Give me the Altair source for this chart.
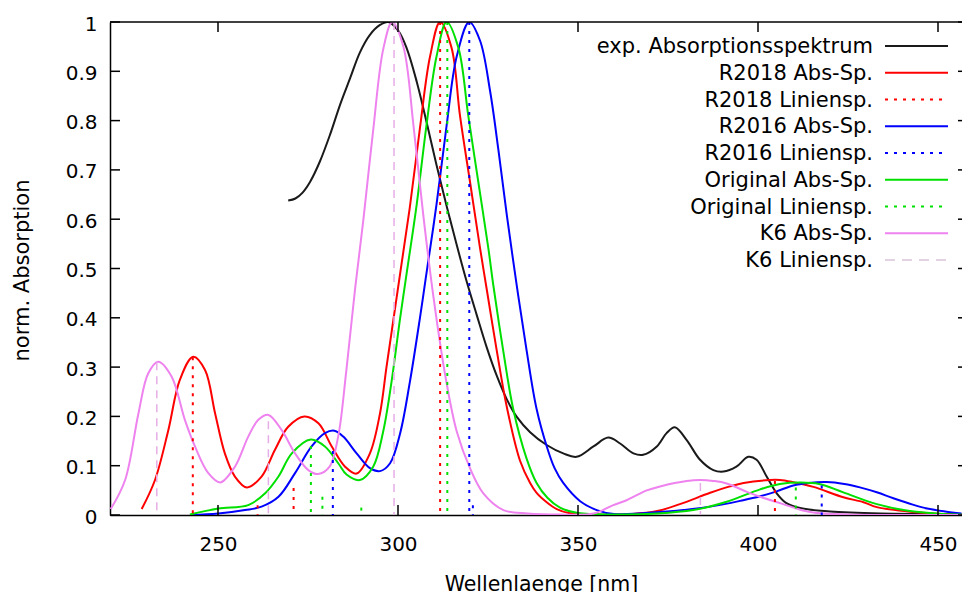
import altair as alt
import pandas as pd

# ---------------- data ----------------
exp_x = [269.5, 271.5, 273.5, 275.6, 278.3, 281.1, 283.9, 286.7, 289.4, 292.2,
         295.0, 297.3, 300.1, 302.4, 305.2, 308.0, 310.7, 313.5, 316.3, 319.1,
         321.9, 324.6, 327.4, 330.2, 333.0, 336.7, 341.3, 345.9, 349.6, 354.3,
         358.4, 361.7, 365.4, 368.1, 371.9, 374.6, 376.9, 380.2, 383.9, 387.6,
         390.4, 394.0, 397.3, 399.6, 402.4, 405.2, 407.9, 411.7, 420.0, 434.0,
         456.5]
exp_y = [0.638, 0.642, 0.654, 0.676, 0.717, 0.771, 0.832, 0.886, 0.938, 0.974,
         0.994, 1.000, 0.982, 0.947, 0.879, 0.795, 0.710, 0.627, 0.548, 0.473,
         0.405, 0.341, 0.283, 0.235, 0.199, 0.168, 0.142, 0.125, 0.118, 0.139,
         0.157, 0.145, 0.125, 0.122, 0.139, 0.166, 0.178, 0.152, 0.112, 0.091,
         0.088, 0.098, 0.118, 0.112, 0.078, 0.044, 0.024, 0.014, 0.007, 0.003,
         0.002]

r18_x = [228.8, 232.5, 236.2, 239.4, 243.1, 246.4, 249.2, 251.9, 254.7, 258.0,
         262.1, 265.8, 269.5, 274.0, 277.9, 281.6, 285.3, 288.5, 292.2, 295.0,
         296.8, 298.7, 300.6, 303.3, 306.1, 308.9, 311.7, 314.9, 317.2, 320.0,
         322.8, 324.6, 327.4, 330.2, 333.9, 336.7, 338.5, 341.3, 344.1, 347.5,
         355.0, 365.0, 372.0, 378.3, 386.7, 392.2, 396.0, 403.3, 406.1, 409.5,
         415.4, 423.7, 429.3, 433.0, 443.1, 451.0, 456.5]
r18_y = [0.012, 0.071, 0.172, 0.274, 0.321, 0.294, 0.206, 0.125, 0.078, 0.056,
         0.078, 0.132, 0.179, 0.200, 0.186, 0.139, 0.098, 0.084, 0.125, 0.206,
         0.300, 0.395, 0.490, 0.625, 0.785, 0.930, 1.000, 0.947, 0.811, 0.676,
         0.541, 0.460, 0.335, 0.220, 0.110, 0.065, 0.045, 0.026, 0.012, 0.004,
         0.001, 0.002, 0.008, 0.022, 0.045, 0.058, 0.065, 0.071, 0.071, 0.067,
         0.057, 0.036, 0.026, 0.016, 0.006, 0.002, 0.001]

r16_x = [242.2, 250.1, 257.5, 262.1, 266.8, 271.4, 276.0, 279.7, 282.3, 284.8,
         288.5, 292.2, 295.0, 297.8, 300.6, 303.3, 306.1, 307.7, 310.7, 313.5,
         316.3, 319.8, 322.8, 325.6, 327.9, 330.2, 332.9, 335.7, 338.5, 341.5,
         343.5, 345.9, 350.6, 355.2, 360.0, 372.8, 386.7, 395.9, 400.6, 405.2,
         409.8, 414.0, 419.1, 424.0, 428.3, 433.0, 437.6, 443.0, 447.0, 452.0,
         456.5]
r16_y = [0.000, 0.003, 0.010, 0.017, 0.037, 0.085, 0.139, 0.166, 0.171, 0.159,
         0.125, 0.095, 0.089, 0.105, 0.166, 0.270, 0.400, 0.480, 0.630, 0.790,
         0.930, 1.000, 0.962, 0.859, 0.740, 0.610, 0.470, 0.335, 0.215, 0.135,
         0.095, 0.065, 0.028, 0.010, 0.002, 0.006, 0.017, 0.030, 0.038, 0.048,
         0.060, 0.065, 0.067, 0.063, 0.056, 0.046, 0.034, 0.021, 0.013, 0.007,
         0.003]

org_x = [242.2, 250.1, 258.4, 263.1, 266.8, 270.5, 275.8, 279.7, 283.4, 285.7,
         289.4, 293.1, 295.9, 298.2, 300.6, 302.4, 305.2, 307.9, 310.7, 313.5,
         316.8, 319.5, 322.3, 325.1, 326.5, 329.3, 332.0, 335.7, 338.5, 341.5,
         345.0, 350.0, 360.0, 372.0, 382.0, 391.3, 400.6, 406.1, 412.0, 417.0,
         423.7, 433.0, 442.2, 451.5, 456.5]
org_y = [0.001, 0.013, 0.020, 0.044, 0.078, 0.125, 0.153, 0.139, 0.105, 0.082,
         0.071, 0.098, 0.170, 0.270, 0.400, 0.490, 0.630, 0.790, 0.930, 1.000,
         0.947, 0.811, 0.676, 0.541, 0.465, 0.330, 0.215, 0.115, 0.065, 0.035,
         0.015, 0.004, 0.001, 0.003, 0.010, 0.027, 0.052, 0.063, 0.066, 0.063,
         0.046, 0.022, 0.008, 0.002, 0.001]

k6_x = [220.2, 224.2, 227.9, 230.6, 233.4, 237.1, 240.8, 243.6, 247.3, 250.6,
        254.7, 258.4, 261.2, 264.0, 267.7, 271.4, 275.1, 277.8, 281.0, 283.4,
        285.6, 288.1, 290.4, 293.1, 295.9, 298.4, 301.5, 304.3, 307.0, 309.8,
        313.2, 316.3, 320.0, 323.7, 329.3, 336.0, 345.0, 354.3, 359.8, 363.5,
        369.1, 372.8, 380.2, 384.0, 387.6, 391.3, 396.9, 401.0, 406.1, 410.7,
        415.3, 425.0, 456.5]
k6_y = [0.012, 0.071, 0.206, 0.287, 0.311, 0.281, 0.193, 0.139, 0.085, 0.066,
        0.098, 0.159, 0.193, 0.203, 0.172, 0.125, 0.091, 0.083, 0.098, 0.160,
        0.290, 0.460, 0.600, 0.780, 0.945, 1.000, 0.950, 0.790, 0.610, 0.445,
        0.280, 0.170, 0.095, 0.044, 0.010, 0.003, 0.001, 0.003, 0.020, 0.030,
        0.050, 0.058, 0.069, 0.071, 0.069, 0.064, 0.047, 0.036, 0.024, 0.013,
        0.005, 0.001, 0.000]

# line spectra (stick positions and heights)
r18_stick_x = [243.0, 261.0, 271.0, 311.7, 404.7]
r18_stick_y = [0.32, 0.02, 0.055, 1.0, 0.069]
r16_stick_x = [281.9, 319.8, 320.8, 417.7]
r16_stick_y = [0.13, 1.0, 0.02, 0.06]
org_stick_x = [275.8, 279.0, 289.8, 313.7, 410.5]
org_stick_y = [0.14, 0.037, 0.015, 1.0, 0.056]
k6_stick_x = [233.0, 264.0, 298.9, 384.0]
k6_stick_y = [0.31, 0.19, 1.0, 0.065]

x_ticks = [250, 300, 350, 400, 450]
y_ticks = [0, 0.1, 0.2, 0.3, 0.4, 0.5, 0.6, 0.7, 0.8, 0.9, 1]

legend_labels = ["exp. Absorptionsspektrum", "R2018 Abs-Sp.", "R2018 Liniensp.",
                 "R2016 Abs-Sp.", "R2016 Liniensp.", "Original Abs-Sp.",
                 "Original Liniensp.", "K6 Abs-Sp.", "K6 Liniensp."]

# ---------------- styling ----------------
FONT = "DejaVu Sans"
W, H = 852, 493
C_EXP, C_RED, C_BLUE, C_GREEN, C_VIOLET = "#1a1a1a", "#ff0000", "#0000ff", "#00e000", "#ee82ee"
C_K6_LINE = "#e6aee6"
DOT = [3, 6]
K6_DASH = [8, 6]

xscale = alt.Scale(domain=[220, 220 + W / 3.6], nice=False, zero=False)
yscale = alt.Scale(domain=[0, 1], nice=False, zero=False)

xaxis = alt.Axis(values=x_ticks, ticks=False, tickSize=0, grid=False,
                 domainColor="black", domainWidth=1.5, labelFlush=False,
                 labelFont=FONT, labelFontSize=20, labelColor="black", labelPadding=19,
                 title="Wellenlaenge [nm]", titleFont=FONT, titleFontSize=20.5,
                 titleFontWeight="normal", titleColor="black",
                 titleX=W / 2 + 5, titleY=75, titleAlign="center", titleBaseline="alphabetic")
yaxis = alt.Axis(values=y_ticks, format="~g", ticks=False, tickSize=0, grid=False,
                 domainColor="black", domainWidth=1.5, labelFlush=False,
                 labelFont=FONT, labelFontSize=20, labelColor="black", labelPadding=13,
                 labelOffset=2,
                 title="norm. Absorption", titleFont=FONT, titleFontSize=21,
                 titleFontWeight="normal", titleColor="black", titleAngle=270,
                 titleX=-82, titleY=248, titleAlign="center", titleBaseline="alphabetic")


def X(field):
    return alt.X(field, type="quantitative", scale=xscale, axis=xaxis)


def Y(field):
    return alt.Y(field, type="quantitative", scale=yscale, axis=yaxis)


# ---------------- curves ----------------
rows = []
for name, xs, ys, col in [("exp", exp_x, exp_y, C_EXP),
                          ("R2018", r18_x, r18_y, C_RED),
                          ("R2016", r16_x, r16_y, C_BLUE),
                          ("Original", org_x, org_y, C_GREEN),
                          ("K6", k6_x, k6_y, C_VIOLET)]:
    for xv, yv in zip(xs, ys):
        rows.append({"series": name, "x": xv, "y": yv, "color": col})
curve_df = pd.DataFrame(rows)

curves = alt.Chart(curve_df).mark_line(strokeWidth=2, interpolate="catmull-rom", clip=True).encode(
    x=X("x"), y=Y("y"),
    color=alt.Color("color:N", scale=None),
    detail="series:N",
)

# ---------------- line spectra ----------------
stick_layers = []
for xs, ys, col, dash, sw in [(r18_stick_x, r18_stick_y, C_RED, DOT, 2),
                              (r16_stick_x, r16_stick_y, C_BLUE, DOT, 2),
                              (org_stick_x, org_stick_y, C_GREEN, DOT, 2),
                              (k6_stick_x, k6_stick_y, C_K6_LINE, K6_DASH, 1.5)]:
    sdf = pd.DataFrame({"x": xs, "y": ys, "base": [0] * len(xs)})
    stick_layers.append(
        alt.Chart(sdf).mark_rule(color=col, strokeWidth=sw, strokeDash=dash).encode(
            x=X("x"), y=Y("y"), y2=alt.Y2("base")))

# ---------------- inward ticks & top border ----------------
xt_df = pd.DataFrame({"t": x_ticks})
yt_df = pd.DataFrame({"t": y_ticks})
tick_style = dict(color="black", strokeWidth=1.5)
xt_bottom = alt.Chart(xt_df).mark_rule(**tick_style).encode(
    x=X("t"), y=alt.value(H), y2=alt.value(H - 10))
xt_top = alt.Chart(xt_df).mark_rule(**tick_style).encode(
    x=X("t"), y=alt.value(0), y2=alt.value(10))
yt_left = alt.Chart(yt_df).mark_rule(**tick_style).encode(
    y=Y("t"), x=alt.value(0), x2=alt.value(10))
yt_right = alt.Chart(yt_df).mark_rule(**tick_style).encode(
    y=Y("t"), x=alt.value(W - 4), x2=alt.value(W))
top_border = alt.Chart(pd.DataFrame({"a": [0]})).mark_rule(color="black", strokeWidth=1.5).encode(
    x=alt.value(0), x2=alt.value(W), y=alt.value(0))

main = alt.layer(curves, *stick_layers, xt_bottom, xt_top, yt_left, yt_right, top_border)

# ---------------- key (labels left, samples right) ----------------
leg_df = pd.DataFrame({"label": legend_labels, "row": list(range(len(legend_labels)))})
lscale = alt.Scale(domain=[0, 8], range=[24, 238])
leg_text = alt.Chart(leg_df).mark_text(align="right", baseline="middle", font=FONT,
                                       fontSize=21, color="black", dy=1).encode(
    x=alt.value(763), y=alt.Y("row:Q", scale=lscale, axis=None), text="label:N")

sample_styles = [(C_EXP, None, 2), (C_RED, None, 2), (C_RED, DOT, 2),
                 (C_BLUE, None, 2), (C_BLUE, DOT, 2), (C_GREEN, None, 2),
                 (C_GREEN, DOT, 2), (C_VIOLET, None, 2), ("#d9c3d9", [10, 7], 1.5)]
samples = []
for i, (col, dash, sw) in enumerate(sample_styles):
    props = dict(color=col, strokeWidth=sw)
    if dash is not None:
        props["strokeDash"] = dash
    samples.append(alt.Chart(leg_df.iloc[[i]]).mark_rule(**props).encode(
        x=alt.value(775), x2=alt.value(838),
        y=alt.Y("row:Q", scale=lscale, axis=None)))

key = alt.layer(leg_text, *samples)

chart = alt.layer(main, key).resolve_scale(y="independent").properties(
    width=W, height=H,
    autosize=alt.AutoSizeParams(type="none"),
    padding={"left": 110, "top": 22, "right": 0, "bottom": 77},
    background="white",
).configure_view(stroke=None)

chart.save("out.html", embed_options={"renderer": "svg", "actions": False})
